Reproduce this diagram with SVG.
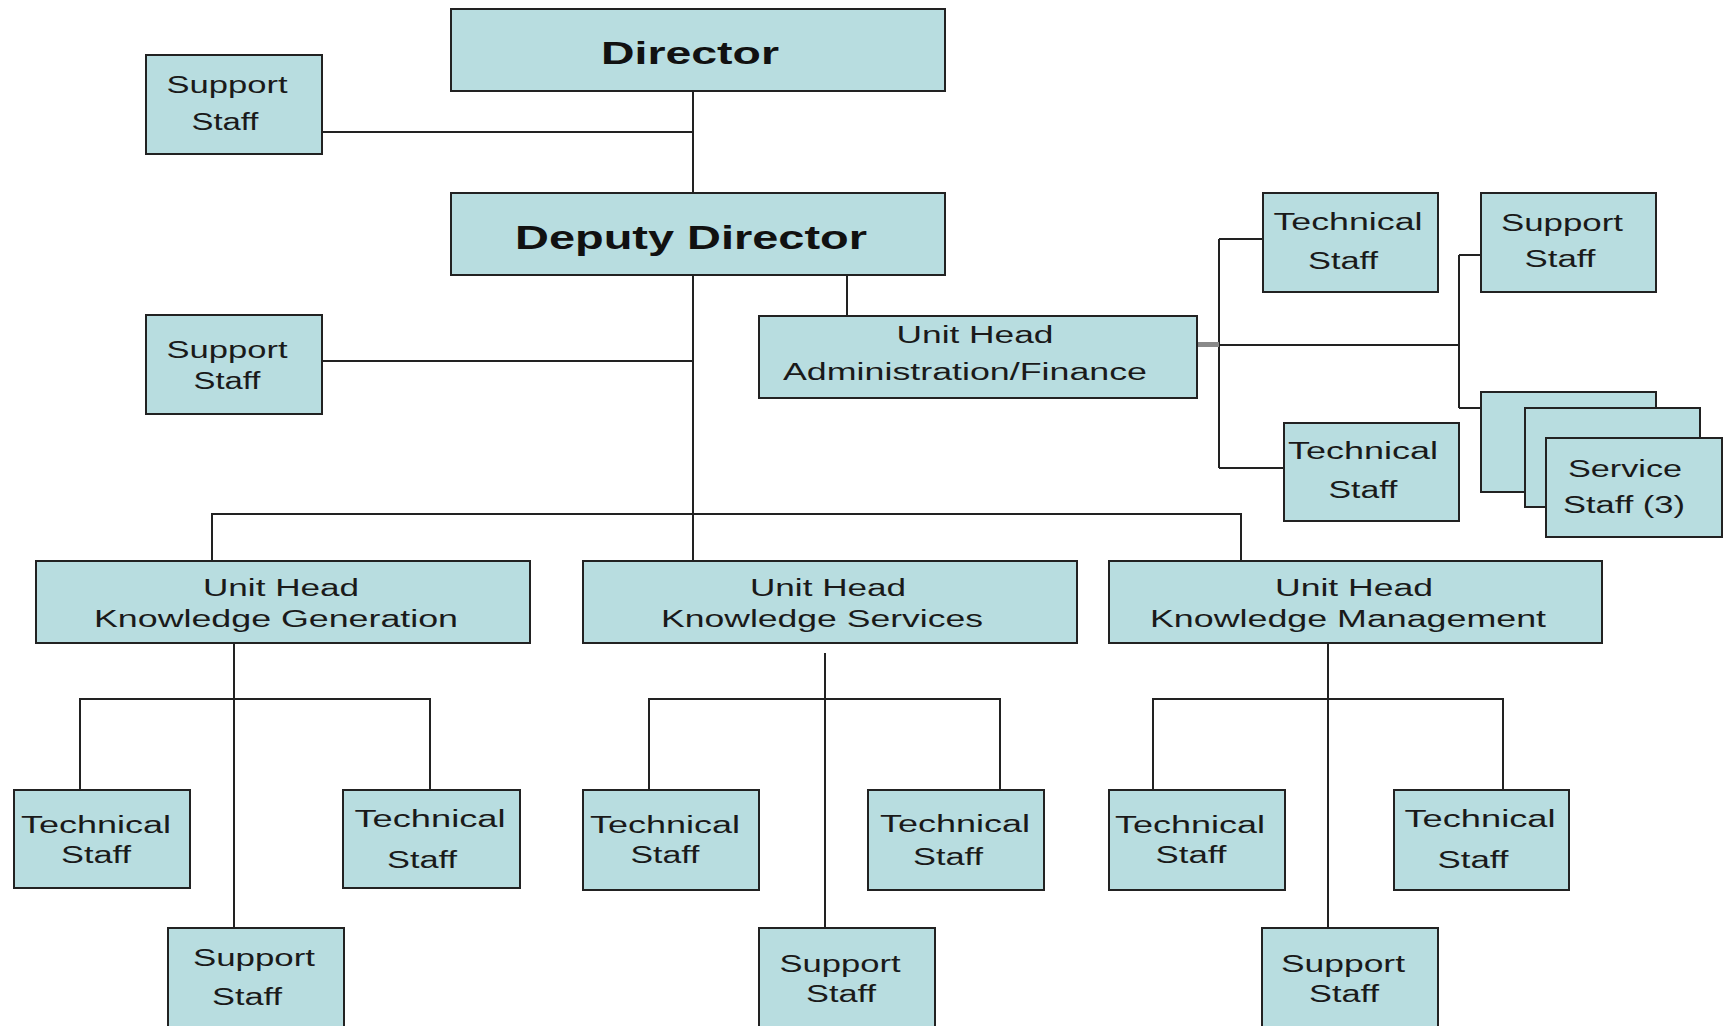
<svg xmlns="http://www.w3.org/2000/svg" width="1725" height="1026" viewBox="0 0 1725 1026">
  <style>
    .box { fill: #b8dde0; stroke: #222; stroke-width: 2; }
    .wire { fill: none; stroke: #222; stroke-width: 2; }
    .lbl { font-family: "Liberation Sans", Arial, sans-serif; font-size: 23px; fill: #1a1a1a; text-anchor: middle; }
    .title { font-family: "Liberation Sans", Arial, sans-serif; font-weight: bold; fill: #111; text-anchor: middle; }
  </style>
  <rect width="1725" height="1026" fill="#fff"/>

  <!-- connectors -->
  <g id="connectors" class="wire">
    <path d="M693 86V193M322 132H693"/>
    <path d="M693 255V561M322 361H693"/>
    <path d="M847 269V316"/>
    <path d="M1219 345H1459M1219 239V468M1219 239H1263M1219 468H1284"/>
    <path d="M1459 255V408M1459 255H1481M1459 408H1481"/>
    <path d="M212 561V514H1241V561"/>
    <path d="M234 637V928M80 790V699H430V790"/>
    <path d="M825 653V928M649 790V699H1000V790"/>
    <path d="M1328 637V928M1153 790V699H1503V790"/>
    <rect x="1195" y="342" width="24" height="5" fill="#8a8a8a" stroke="none"/>
  </g>

  <g id="director">
    <rect class="box" x="451" y="9" width="494" height="82"/>
    <text class="title" x="690" y="64" font-size="31" textLength="178" lengthAdjust="spacingAndGlyphs">Director</text>
  </g>
  <g id="support-director">
    <rect class="box" x="146" y="55" width="176" height="99"/>
    <text class="lbl" x="227" y="93" textLength="121" lengthAdjust="spacingAndGlyphs">Support</text>
    <text class="lbl" x="225" y="130" textLength="67" lengthAdjust="spacingAndGlyphs">Staff</text>
  </g>
  <g id="deputy-director">
    <rect class="box" x="451" y="193" width="494" height="82"/>
    <text class="title" x="691" y="249" font-size="33" textLength="352" lengthAdjust="spacingAndGlyphs">Deputy Director</text>
  </g>
  <g id="support-deputy">
    <rect class="box" x="146" y="315" width="176" height="99"/>
    <text class="lbl" x="227" y="358" textLength="121" lengthAdjust="spacingAndGlyphs">Support</text>
    <text class="lbl" x="227" y="389" textLength="67" lengthAdjust="spacingAndGlyphs">Staff</text>
  </g>

  <g id="unit-admin">
    <rect class="box" x="759" y="316" width="438" height="82"/>
    <text class="lbl" x="975" y="343" textLength="157" lengthAdjust="spacingAndGlyphs">Unit Head</text>
    <text class="lbl" x="965" y="380" textLength="364" lengthAdjust="spacingAndGlyphs">Administration/Finance</text>
  </g>
  <g id="admin-technical-1">
    <rect class="box" x="1263" y="193" width="175" height="99"/>
    <text class="lbl" x="1348" y="230" textLength="149" lengthAdjust="spacingAndGlyphs">Technical</text>
    <text class="lbl" x="1343" y="269" textLength="70" lengthAdjust="spacingAndGlyphs">Staff</text>
  </g>
  <g id="admin-technical-2">
    <rect class="box" x="1284" y="423" width="175" height="98"/>
    <text class="lbl" x="1363" y="459" textLength="150" lengthAdjust="spacingAndGlyphs">Technical</text>
    <text class="lbl" x="1363" y="498" textLength="69" lengthAdjust="spacingAndGlyphs">Staff</text>
  </g>
  <g id="admin-support">
    <rect class="box" x="1481" y="193" width="175" height="99"/>
    <text class="lbl" x="1562" y="231" textLength="122" lengthAdjust="spacingAndGlyphs">Support</text>
    <text class="lbl" x="1560" y="267" textLength="71" lengthAdjust="spacingAndGlyphs">Staff</text>
  </g>
  <g id="admin-service">
    <rect class="box" x="1481" y="392" width="175" height="100"/>
    <rect class="box" x="1525" y="408" width="175" height="99"/>
    <rect class="box" x="1546" y="438" width="176" height="99"/>
    <text class="lbl" x="1625" y="477" textLength="114" lengthAdjust="spacingAndGlyphs">Service</text>
    <text class="lbl" x="1624" y="513" textLength="122" lengthAdjust="spacingAndGlyphs">Staff (3)</text>
  </g>

  <!-- Knowledge Generation -->
  <g id="unit-generation">
    <rect class="box" x="36" y="561" width="494" height="82"/>
    <text class="lbl" x="281" y="596" textLength="156" lengthAdjust="spacingAndGlyphs">Unit Head</text>
    <text class="lbl" x="276" y="627" textLength="364" lengthAdjust="spacingAndGlyphs">Knowledge Generation</text>
  </g>
  <g id="generation-technical-1">
    <rect class="box" x="14" y="790" width="176" height="98"/>
    <text class="lbl" x="96" y="833" textLength="150" lengthAdjust="spacingAndGlyphs">Technical</text>
    <text class="lbl" x="96" y="863" textLength="70" lengthAdjust="spacingAndGlyphs">Staff</text>
  </g>
  <g id="generation-technical-2">
    <rect class="box" x="343" y="790" width="177" height="98"/>
    <text class="lbl" x="430" y="827" textLength="151" lengthAdjust="spacingAndGlyphs">Technical</text>
    <text class="lbl" x="422" y="868" textLength="70" lengthAdjust="spacingAndGlyphs">Staff</text>
  </g>
  <g id="generation-support">
    <rect class="box" x="168" y="928" width="176" height="102"/>
    <text class="lbl" x="254" y="966" textLength="122" lengthAdjust="spacingAndGlyphs">Support</text>
    <text class="lbl" x="247" y="1005" textLength="70" lengthAdjust="spacingAndGlyphs">Staff</text>
  </g>

  <!-- Knowledge Services -->
  <g id="unit-services">
    <rect class="box" x="583" y="561" width="494" height="82"/>
    <text class="lbl" x="828" y="596" textLength="156" lengthAdjust="spacingAndGlyphs">Unit Head</text>
    <text class="lbl" x="822" y="627" textLength="322" lengthAdjust="spacingAndGlyphs">Knowledge Services</text>
  </g>
  <g id="services-technical-1">
    <rect class="box" x="583" y="790" width="176" height="100"/>
    <text class="lbl" x="665" y="833" textLength="150" lengthAdjust="spacingAndGlyphs">Technical</text>
    <text class="lbl" x="665" y="863" textLength="69" lengthAdjust="spacingAndGlyphs">Staff</text>
  </g>
  <g id="services-technical-2">
    <rect class="box" x="868" y="790" width="176" height="100"/>
    <text class="lbl" x="955" y="832" textLength="150" lengthAdjust="spacingAndGlyphs">Technical</text>
    <text class="lbl" x="948" y="865" textLength="70" lengthAdjust="spacingAndGlyphs">Staff</text>
  </g>
  <g id="services-support">
    <rect class="box" x="759" y="928" width="176" height="102"/>
    <text class="lbl" x="840" y="972" textLength="121" lengthAdjust="spacingAndGlyphs">Support</text>
    <text class="lbl" x="841" y="1002" textLength="70" lengthAdjust="spacingAndGlyphs">Staff</text>
  </g>

  <!-- Knowledge Management -->
  <g id="unit-management">
    <rect class="box" x="1109" y="561" width="493" height="82"/>
    <text class="lbl" x="1354" y="596" textLength="158" lengthAdjust="spacingAndGlyphs">Unit Head</text>
    <text class="lbl" x="1348" y="627" textLength="396" lengthAdjust="spacingAndGlyphs">Knowledge Management</text>
  </g>
  <g id="management-technical-1">
    <rect class="box" x="1109" y="790" width="176" height="100"/>
    <text class="lbl" x="1190" y="833" textLength="150" lengthAdjust="spacingAndGlyphs">Technical</text>
    <text class="lbl" x="1191" y="863" textLength="71" lengthAdjust="spacingAndGlyphs">Staff</text>
  </g>
  <g id="management-technical-2">
    <rect class="box" x="1394" y="790" width="175" height="100"/>
    <text class="lbl" x="1480" y="827" textLength="151" lengthAdjust="spacingAndGlyphs">Technical</text>
    <text class="lbl" x="1473" y="868" textLength="71" lengthAdjust="spacingAndGlyphs">Staff</text>
  </g>
  <g id="management-support">
    <rect class="box" x="1262" y="928" width="176" height="102"/>
    <text class="lbl" x="1343" y="972" textLength="124" lengthAdjust="spacingAndGlyphs">Support</text>
    <text class="lbl" x="1344" y="1002" textLength="70" lengthAdjust="spacingAndGlyphs">Staff</text>
  </g>
</svg>
